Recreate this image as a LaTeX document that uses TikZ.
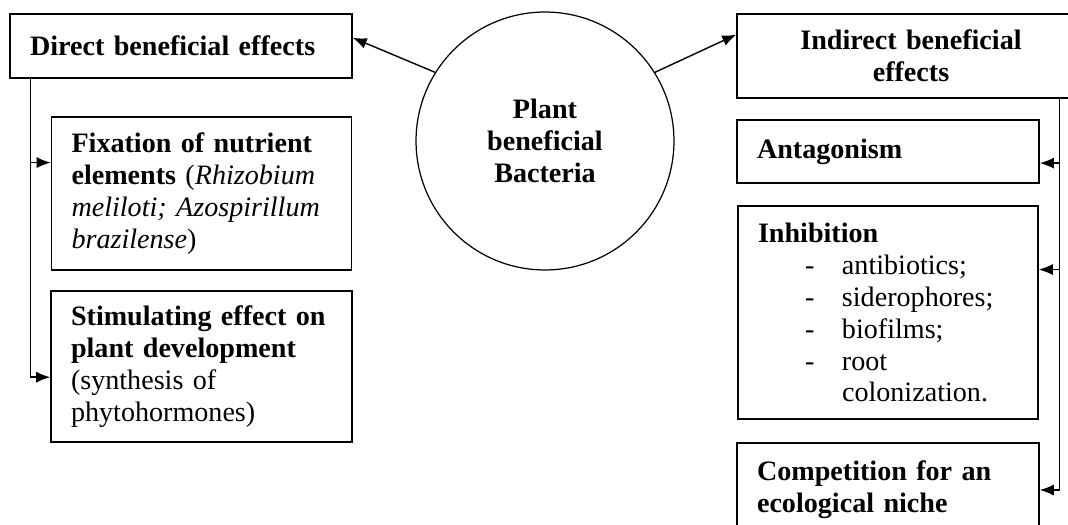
\documentclass[tikz,border=0pt]{standalone}
\usepackage{fontspec}
\setmainfont{Liberation Serif}
\usetikzlibrary{arrows.meta,positioning,calc}

\newcommand{\dashitem}[1]{\makebox[1.68cm][l]{\hspace{0.94cm}-}#1}

\begin{document}
\begin{tikzpicture}[x=0.02cm, y=-0.02cm,
  every node/.style={font=\fontsize{16}{18.2}\selectfont},
  box/.style={draw, rectangle, line width=0.9pt, inner xsep=0.4cm, inner ysep=0pt, align=left},
  bact/.style={draw, circle, line width=0.7pt, minimum size=5.16cm, align=center,
  font=\fontsize{16}{18.2}\selectfont\bfseries},
  arr/.style={-{Latex[length=2.8mm,width=2.2mm]}, line width=0.8pt}
]
\useasboundingbox (0,0) rectangle (1068,524);
% centre
\node[bact] (bact) at (545,141) {Plant\\beneficial\\Bacteria};
% direct side
\node[box, text width=6.04cm, minimum height=1.28cm] (direct) at (181,46) {\textbf{Direct beneficial effects}};
\node[box, text width=5.2cm, minimum height=3.06cm] (fix) at (201.5,193.5)
  {\textbf{Fixation of nutrient}\\\textbf{elements} (\textit{Rhizobium}\\\textit{meliloti; Azospirillum}\\\textit{brazilense})};
\node[box, text width=5.22cm, minimum height=3.02cm] (stim) at (201.5,366.5)
  {\textbf{Stimulating effect on}\\\textbf{plant development}\\(synthesis of\\phytohormones)};
% indirect side
\node[box, align=center, text width=6.16cm, minimum height=1.68cm] (indirect) at (911,56)
  {\textbf{Indirect beneficial}\\\textbf{effects}};
\node[box, text width=5.24cm, minimum height=1.26cm] (antag) at (888,151.5) {\textbf{Antagonism}};
\node[box, text width=5.2cm, minimum height=4.26cm] (inhib) at (888,312.5)
  {\textbf{Inhibition}\\\dashitem{antibiotics;}\\\dashitem{siderophores;}\\\dashitem{biofilms;}\\\dashitem{root}\\\hspace*{1.68cm}colonization.};
\node[box, text width=5.24cm, minimum height=1.88cm] (comp) at (888,490)
  {\textbf{Competition for an}\\\textbf{ecological niche}};
% arrows from the circle
\draw[arr] (bact.148) -- ($(direct.north east)!0.375!(direct.south east)$);
\draw[arr] (bact.32) -- ($(indirect.north west)!0.25!(indirect.south west)$);
% left branch
\coordinate (ltrunk) at ([xshift=0.42cm]direct.south west);
\foreach \t/\f in {fix/0.3, stim/0.57}
  \draw[arr] (ltrunk) |- ($(\t.north west)!\f!(\t.south west)$);
% right branch
\coordinate (rtrunk) at ([xshift=-0.52cm]indirect.south east);
\foreach \t/\f in {antag/0.68, inhib/0.3, comp/0.5}
  \draw[arr] (rtrunk) |- ($(\t.north east)!\f!(\t.south east)$);
\end{tikzpicture}
\end{document}
